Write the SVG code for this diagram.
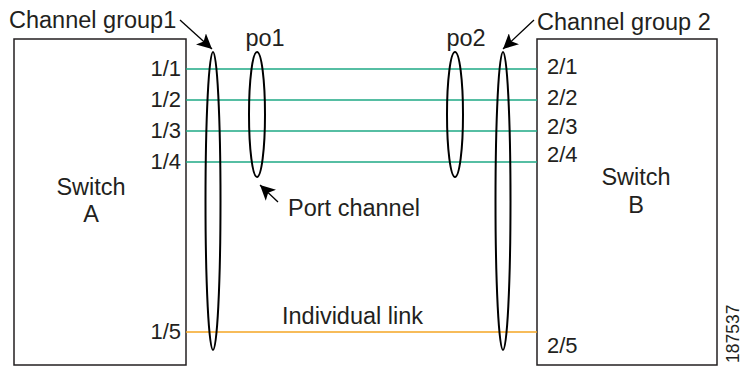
<svg xmlns="http://www.w3.org/2000/svg" width="749" height="366" viewBox="0 0 749 366">
<style>
text{font-family:"Liberation Sans",Arial,sans-serif;fill:#231f20}
.t{font-size:23.5px}
.p{font-size:22px}
.box{fill:#fff;stroke:#231f20;stroke-width:1.5}
.loop{fill:none;stroke:#000;stroke-width:2}
.g{stroke:#1ea884;stroke-width:1.5}
.o{stroke:#f5a623;stroke-width:1.5}
.ar{stroke:#000;stroke-width:1.3;fill:none}
</style>
<defs>
<marker id="ah" viewBox="0 0 10 10" refX="10" refY="5" markerWidth="15" markerHeight="15" markerUnits="userSpaceOnUse" orient="auto">
<path d="M0,0 L10,5 L0,10 L2.5,5 Z" fill="#000"/>
</marker>
</defs>
<g id="switchA">
<rect class="box" x="14" y="39" width="172" height="326"/>
<text class="t" x="91" y="195" text-anchor="middle">Switch</text>
<text class="t" x="91" y="222" text-anchor="middle">A</text>
<text class="p" x="181" y="76" text-anchor="end">1/1</text>
<text class="p" x="181" y="107" text-anchor="end">1/2</text>
<text class="p" x="181" y="138" text-anchor="end">1/3</text>
<text class="p" x="181" y="169" text-anchor="end">1/4</text>
<text class="p" x="181" y="339" text-anchor="end">1/5</text>
</g>
<g id="switchB">
<rect class="box" x="537" y="39" width="180" height="326"/>
<text class="t" x="636" y="185" text-anchor="middle">Switch</text>
<text class="t" x="636" y="213" text-anchor="middle">B</text>
<text class="p" x="547" y="74">2/1</text>
<text class="p" x="547" y="105">2/2</text>
<text class="p" x="547" y="134">2/3</text>
<text class="p" x="547" y="162">2/4</text>
<text class="p" x="547" y="353">2/5</text>
</g>
<g id="connectors">
<line class="g" x1="186" y1="69" x2="537" y2="69"/>
<line class="g" x1="186" y1="100" x2="537" y2="100"/>
<line class="g" x1="186" y1="131" x2="537" y2="131"/>
<line class="g" x1="186" y1="162" x2="537" y2="162"/>
<line class="o" x1="186" y1="332" x2="537" y2="332"/>
</g>
<g id="channel-group1">
<ellipse class="loop" cx="213" cy="201" rx="7.5" ry="149"/>
<text class="t" x="9" y="28">Channel group1</text>
<line class="ar" x1="180" y1="20" x2="212" y2="49" marker-end="url(#ah)"/>
</g>
<g id="channel-group2">
<ellipse class="loop" cx="503" cy="201" rx="7.5" ry="149"/>
<text class="t" x="537" y="30">Channel group 2</text>
<line class="ar" x1="534" y1="20" x2="503" y2="49" marker-end="url(#ah)"/>
</g>
<g id="po1">
<ellipse class="loop" cx="257" cy="114.5" rx="8" ry="62.5"/>
<text class="t" x="265" y="46" text-anchor="middle">po1</text>
</g>
<g id="po2">
<ellipse class="loop" cx="455" cy="114.5" rx="8" ry="62.5"/>
<text class="t" x="466" y="46" text-anchor="middle">po2</text>
</g>
<g id="port-channel">
<text class="t" x="288" y="216">Port channel</text>
<line class="ar" x1="278" y1="202" x2="260" y2="185" marker-end="url(#ah)"/>
</g>
<g id="individual-link">
<text class="t" x="282" y="324">Individual link</text>
</g>
<text x="739" y="363" font-size="17.5" transform="rotate(-90 739 363)">187537</text>
</svg>
